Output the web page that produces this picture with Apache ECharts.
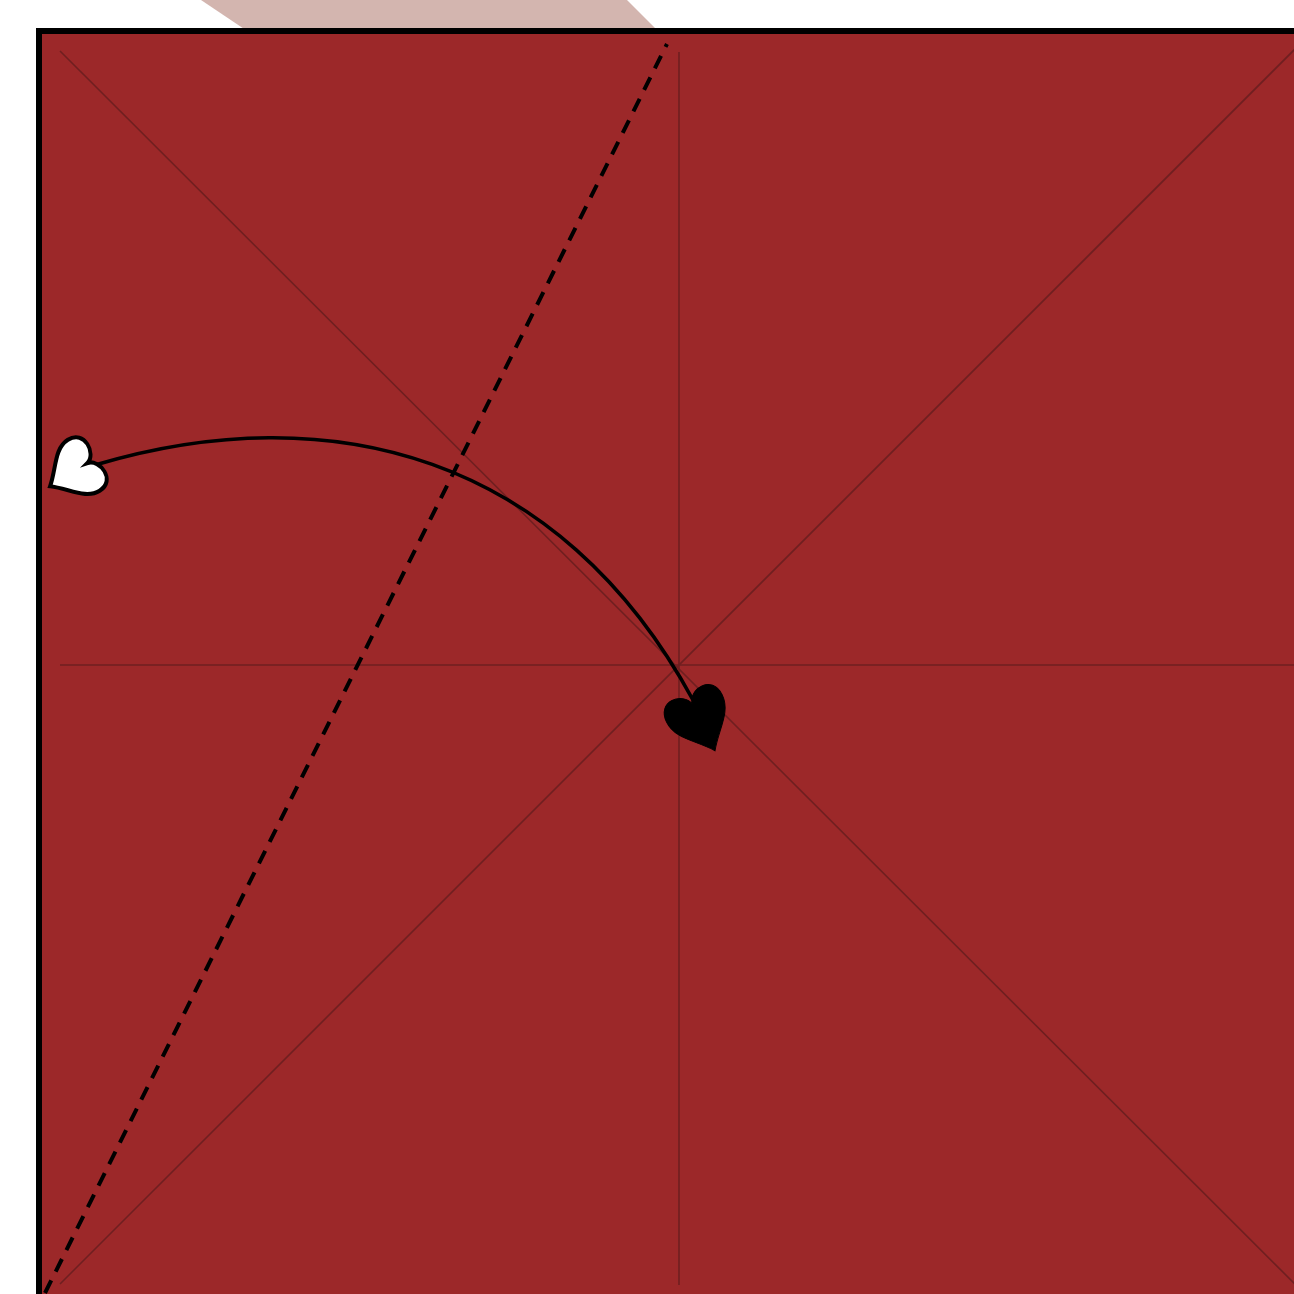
<!DOCTYPE html>
<html><head><meta charset="utf-8">
<script src="https://cdn.jsdelivr.net/npm/echarts@6/dist/echarts.min.js"></script>
<style>html,body{margin:0;padding:0;background:#fff;overflow:hidden}#c{width:1294px;height:1294px}</style>
</head><body><div id="c"></div><script>
// Diagram coordinates (x right, y down), same unit as the picture
const backFlap = [[201,0],[627,0],[672,45],[268,45]];
const paperSquare = [[39,31],[1320,31],[1320,1302],[39,1302]];
const creaseDiagA = [[60,51],[1300,1289]];
const creaseDiagB = [[60,1284],[1300,44]];
const creaseVert = [[679,52],[679,1285]];
const creaseHorz = [[60,665],[1300,665]];
const valleyFold = [[45,1293],[667,44]];
const arrowCurve = [[95,465],[330,395],[560,455],[693,700]]; // start, control1, control2, end
const arrowTail = [73,472];
const arrowHead = [701,722];

const heart = 'path://M50,25 C45,5 0,0 0,32 C0,58 30,72 50,96 C70,72 100,58 100,32 C100,0 55,5 50,25 Z';

function polySeries(pts, style, z) {
  return {
    type: 'custom', z: z, silent: true, clip: false,
    data: [[pts[0][0], pts[0][1]]],
    renderItem: function (params, api) {
      return { type: 'polygon', shape: { points: pts.map(p => api.coord(p)) }, style: style };
    }
  };
}
function lineSeries(pts, ls, z) {
  return { type: 'line', z: z, data: pts, symbol: 'none', silent: true, lineStyle: ls, clip: false };
}

const chart = echarts.init(document.getElementById('c'), null, { renderer: 'canvas' });
chart.setOption({
  animation: false,
  backgroundColor: '#ffffff',
  grid: { left: 0, right: 0, top: 0, bottom: 0 },
  xAxis: { type: 'value', min: 0, max: 1294, show: false },
  yAxis: { type: 'value', min: 0, max: 1294, inverse: true, show: false },
  series: [
    polySeries(backFlap, { fill: '#d3b5af' }, 1),
    polySeries(paperSquare, { fill: '#9c2829', stroke: '#000', lineWidth: 6 }, 2),
    lineSeries(creaseDiagA, { color: '#6f1f20', width: 1.6 }, 3),
    lineSeries(creaseDiagB, { color: '#6f1f20', width: 1.6 }, 3),
    lineSeries(creaseVert, { color: '#6f1f20', width: 1.6 }, 3),
    lineSeries(creaseHorz, { color: '#6f1f20', width: 1.6 }, 3),
    lineSeries(valleyFold, { color: '#000', width: 4, type: [14, 10] }, 4),
    {
      type: 'custom', z: 5, silent: true, clip: false,
      data: [[arrowCurve[0][0], arrowCurve[0][1]]],
      renderItem: function (params, api) {
        const p = arrowCurve.map(q => api.coord(q));
        return { type: 'bezierCurve',
          shape: { x1: p[0][0], y1: p[0][1], cpx1: p[1][0], cpy1: p[1][1], cpx2: p[2][0], cpy2: p[2][1], x2: p[3][0], y2: p[3][1] },
          style: { stroke: '#000', fill: null, lineWidth: 3.6 } };
      }
    },
    {
      type: 'scatter', z: 6, silent: true,
      symbol: heart,
      data: [
        { value: arrowTail, symbolSize: [60, 54], symbolRotate: -58, itemStyle: { color: '#fff', borderColor: '#000', borderWidth: 4, opacity: 1 } },
        { value: arrowHead, symbolSize: [62, 64], symbolRotate: 26, itemStyle: { color: '#000', borderColor: '#000', borderWidth: 1, opacity: 1 } }
      ]
    }
  ]
});
</script></body></html>
